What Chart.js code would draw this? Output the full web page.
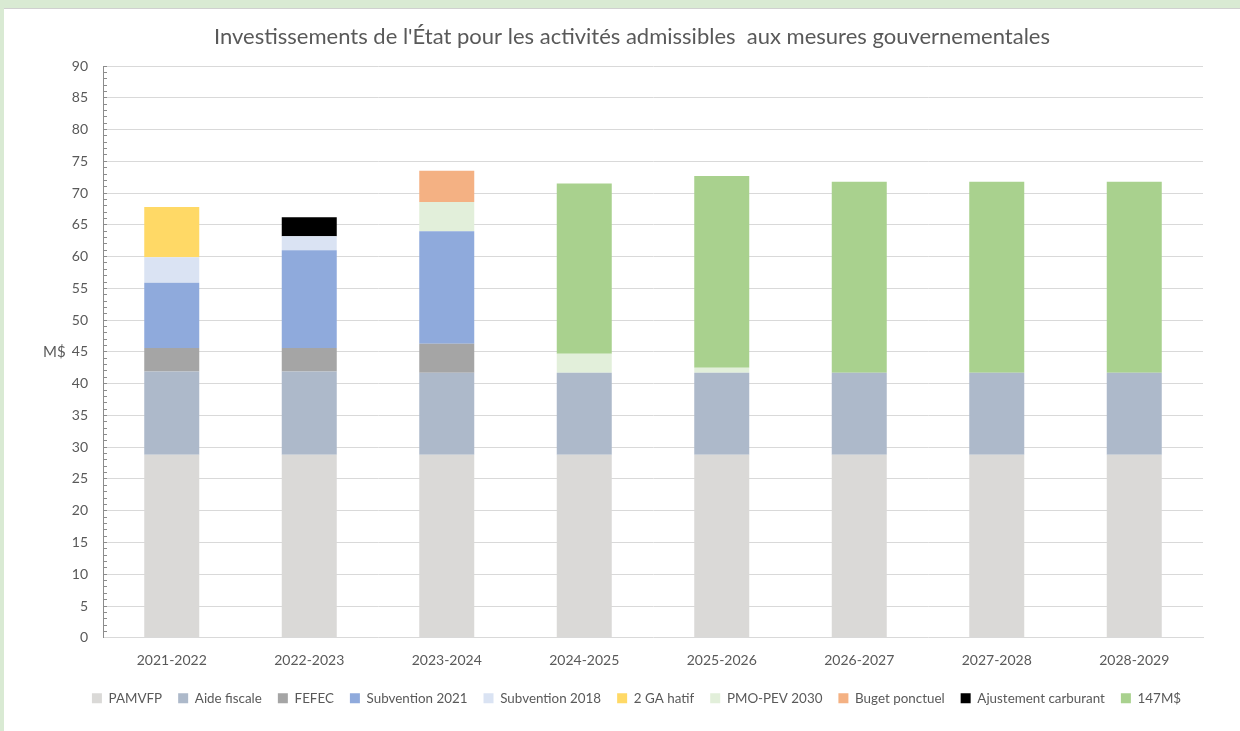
<!DOCTYPE html>
<html>
<head>
<meta charset="utf-8">
<script src="https://cdn.jsdelivr.net/npm/chart.js@4/dist/chart.umd.min.js"></script>
<style>
  html, body { margin: 0; padding: 0; background: #d9ead3; width: 1240px; height: 731px; overflow: hidden; }
  #wrap { position: absolute; left: 4px; top: 8px; width: 1236px; height: 723px; background: #ffffff; border-top: 1px solid #d0d0d0; box-sizing: border-box; }
</style>
</head>
<body>
<div id="wrap"><canvas id="c"></canvas></div>
<script>
const categories = ['2021-2022','2022-2023','2023-2024','2024-2025','2025-2026','2026-2027','2027-2028','2028-2029'];
const pamvfp        = [28.8, 28.8, 28.8, 28.8, 28.8, 28.8, 28.8, 28.8];
const aideFiscale   = [13.1, 13.1, 12.9, 12.9, 12.9, 12.9, 12.9, 12.9];
const fefec         = [3.7, 3.7, 4.6, null, null, null, null, null];
const subvention2021= [10.3, 15.4, 17.7, null, null, null, null, null];
const subvention2018= [4.0, 2.2, null, null, null, null, null, null];
const gaHatif       = [7.9, null, null, null, null, null, null, null];
const pmoPev2030    = [null, null, 4.6, 3.0, 0.8, null, null, null];
const bugetPonctuel = [null, null, 4.9, null, null, null, null, null];
const ajustCarburant= [null, 3.0, null, null, null, null, null, null];
const m147          = [null, null, null, 26.8, 30.2, 30.1, 30.1, 30.1];
const yTickStep = 5;
const chartTitle = "Investissements de l'État pour les activités admissibles  aux mesures gouvernementales";
const yAxisTitle = 'M$';

const series = [
  ['PAMVFP', pamvfp, '#dad9d7'],
  ['Aide fiscale', aideFiscale, '#adb9ca'],
  ['FEFEC', fefec, '#a5a5a5'],
  ['Subvention 2021', subvention2021, '#8faadc'],
  ['Subvention 2018', subvention2018, '#dae3f3'],
  ['2 GA hatif', gaHatif, '#ffd966'],
  ['PMO-PEV 2030', pmoPev2030, '#e2efda'],
  ['Buget ponctuel', bugetPonctuel, '#f4b183'],
  ['Ajustement carburant', ajustCarburant, '#000000'],
  ['147M$', m147, '#a9d18e']
];

const FONT = 'Lato, "Open Sans", sans-serif';
const GREY = '#595959';

const textPlugin = {
  id: 'texts',
  afterLayout(chart) {
    const lg = chart.legend;
    if (lg) {
      const dx = 33, dy = -7;
      lg.left += dx; lg.right += dx;
      lg.top += dy; lg.bottom += dy;
    }
  },
  afterDraw(chart) {
    const ctx = chart.ctx;
    const a = chart.chartArea;
    ctx.save();
    ctx.fillStyle = GREY;
    ctx.textBaseline = 'middle';
    ctx.font = '22px ' + FONT;
    ctx.textAlign = 'center';
    ctx.fillText(chartTitle, 628, 28);
    ctx.font = '15px ' + FONT;
    ctx.textAlign = 'left';
    ctx.fillText(yAxisTitle, 39, (a.top + a.bottom) / 2);
    ctx.restore();
  }
};

new Chart(document.getElementById('c'), {
  type: 'bar',
  data: {
    labels: categories,
    datasets: series.map(([label, data, color]) => ({
      label, data, backgroundColor: color, borderWidth: 0,
      categoryPercentage: 1.0, barPercentage: 0.4
    }))
  },
  options: {
    responsive: true,
    maintainAspectRatio: false,
    animation: false,
    layout: { padding: { left: 0, right: 37, top: 57, bottom: 9 } },
    plugins: {
      title: { display: false },
      legend: {
        position: 'bottom',
        labels: {
          boxWidth: 10, boxHeight: 10, padding: 16,
          color: GREY,
          font: { family: FONT, size: 13.4 }
        }
      },
      tooltip: { enabled: false }
    },
    scales: {
      x: {
        stacked: true,
        grid: { display: false, drawTicks: false },
        border: { display: true, color: '#d9d9d9', width: 1 },
        ticks: { color: GREY, font: { family: FONT, size: 14 }, padding: 14 }
      },
      y: {
        stacked: true,
        min: 0, max: 90,
        afterFit(s) { s.width = 99; },
        grid: {
          color: (c) => (c.tick && c.tick.value % yTickStep === 0 && c.tick.value !== 0) ? '#d9d9d9' : 'rgba(0,0,0,0)',
          lineWidth: 1,
          tickColor: '#8c8c8c',
          tickLength: -4,
          drawTicks: true
        },
        border: { display: true, color: '#8c8c8c', width: 1 },
        ticks: {
          stepSize: 1,
          autoSkip: false,
          color: GREY,
          font: { family: FONT, size: 14 },
          padding: 19,
          callback: (v) => (v % yTickStep === 0 ? String(v) : '')
        }
      }
    }
  },
  plugins: [textPlugin]
});
</script>
</body>
</html>
